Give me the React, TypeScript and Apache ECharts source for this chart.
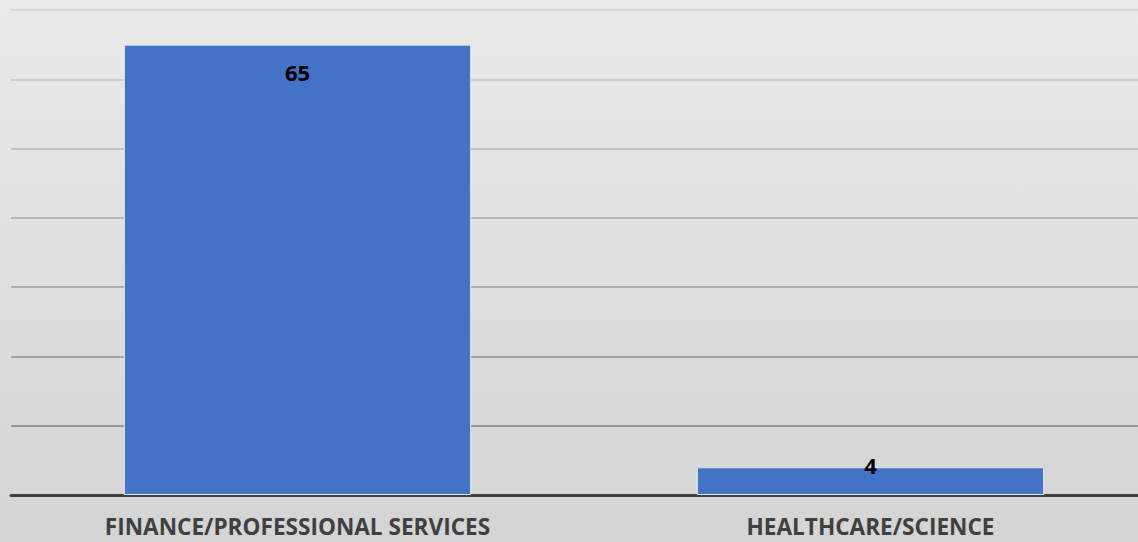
import React, { useEffect, useRef } from "react";
import * as echarts from "echarts";

const categories = ["FINANCE/PROFESSIONAL SERVICES", "HEALTHCARE/SCIENCE"];
const values = [65, 4];
const yMax = 70;
const yInterval = 10;

export default function App() {
  const ref = useRef<HTMLDivElement>(null);
  useEffect(() => {
    if (!ref.current) return;
    const chart = echarts.init(ref.current, undefined, { renderer: "svg" });
    chart.setOption({
      animation: false,
      grid: { left: 11, top: 10, width: 1146, height: 485, containLabel: false },
      xAxis: {
        type: "category",
        data: categories,
        axisLine: { show: true, lineStyle: { color: "#404040", width: 3 } },
        axisTick: { show: false },
        axisLabel: {
          color: "#404040",
          fontFamily: "Open Sans",
          fontWeight: "bold",
          fontSize: 22.6,
          margin: 20,
        },
      },
      yAxis: {
        type: "value",
        min: 0,
        max: yMax,
        interval: yInterval,
        axisLabel: { show: false },
        axisLine: { show: false },
        axisTick: { show: false },
        splitLine: {
          show: true,
          lineStyle: {
            width: 2,
            color: ["#d5d5d5", "#999999", "#a3a3a3", "#adadad", "#b7b7b7", "#c1c1c1", "#cacaca", "#d6d6d6"],
          },
        },
      },
      series: [
        {
          type: "bar",
          barWidth: "60.6%",
          data: values.map((v, i) => ({
            value: v,
            label:
              i === 0
                ? { position: "insideTop", distance: 16 }
                : { position: "insideTop", distance: -13 },
          })),
          itemStyle: { color: "#4472C4", borderColor: "#dfe6f3", borderWidth: 1 },
          label: {
            show: true,
            color: "#000000",
            fontFamily: "Open Sans",
            fontWeight: "bold",
            fontSize: 22,
          },
        },
      ],
    });
    return () => chart.dispose();
  }, []);
  return (
    <div
      style={{
        position: "fixed",
        left: 0,
        top: 0,
        width: 1138,
        height: 542,
        overflow: "hidden",
        background: "linear-gradient(180deg, #eaeaea 0%, #d4d4d4 100%)",
      }}
    >
      <div ref={ref} style={{ width: 1170, height: 542 }} />
    </div>
  );
}
